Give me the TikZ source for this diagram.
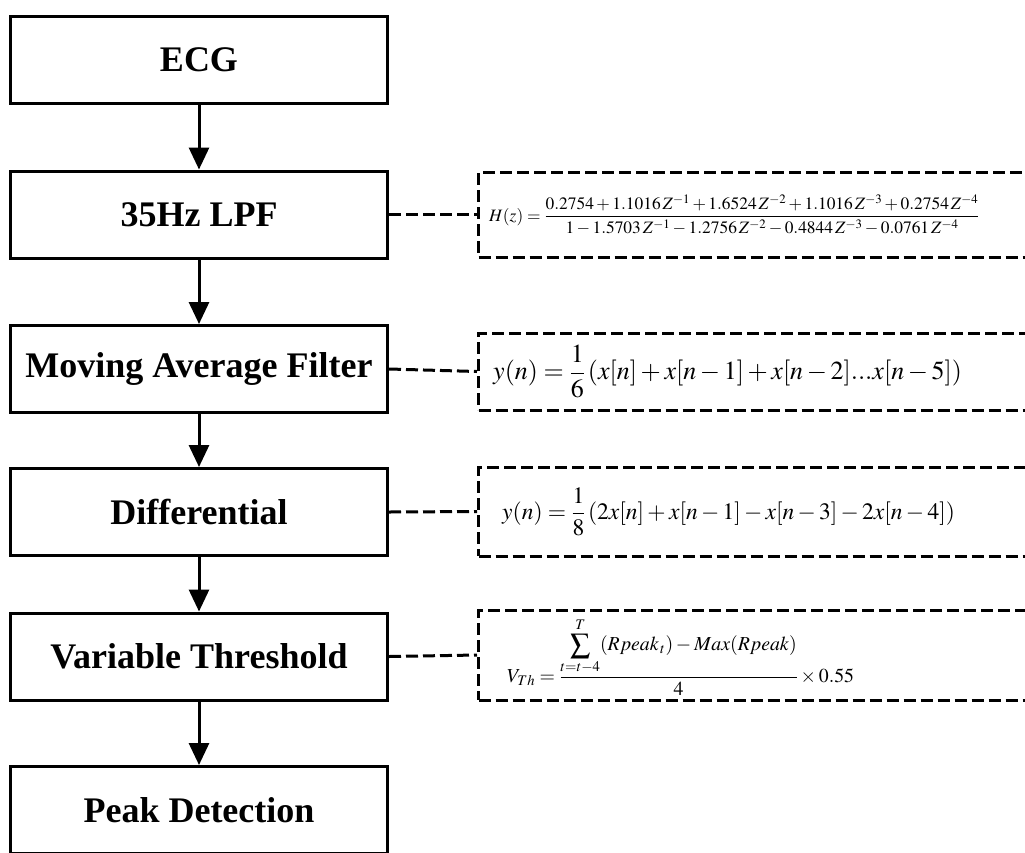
\documentclass[tikz,border=0pt]{standalone}
\usepackage{amsmath}
\usepackage{mathptmx}
\usepackage{fontspec}
\setmainfont{Liberation Serif}
\usetikzlibrary{arrows.meta}
\tikzset{
  stepbox/.style={draw, line width=3pt, rectangle, minimum width=377pt, minimum height=87pt,
    font=\fontsize{36}{42}\selectfont\bfseries, inner sep=0pt},
  fbox/.style={draw, line width=3pt, dash pattern=on 12pt off 5pt, rectangle,
    minimum width=620pt, anchor=west, inner sep=0pt},
  flow/.style={line width=3pt, -{Triangle[length=22pt,width=20pt]}},
  link/.style={line width=3pt, dash pattern=on 12pt off 5pt},
  formula/.style={anchor=west, inner sep=0pt}
}
\begin{document}
\begin{tikzpicture}[x=1pt,y=-1pt]
\useasboundingbox (0,0) rectangle (1025,852);
\clip (0,0) rectangle (1025,852);
% main boxes
\node[stepbox] (ecg) at (199,59.5) {ECG};
\node[stepbox] (lpf) at (199,214.5) {35Hz LPF};
\node[stepbox] (maf) at (199,369) {Moving Average Filter};
\node[stepbox] (dif) at (199,512) {Differential};
\node[stepbox] (vt)  at (199,656.5) {Variable Threshold};
\node[stepbox] (pd)  at (199,810) {Peak Detection};
% arrows
\draw[flow] (ecg) -- (lpf);
\draw[flow] (lpf) -- (maf);
\draw[flow] (maf) -- (dif);
\draw[flow] (dif) -- (vt);
\draw[flow] (vt) -- (pd);
% formula boxes
\node[fbox, minimum height=85pt] (f1) at (477,214.5) {};
\node[fbox, minimum height=77pt] (f2) at (477,371.5) {};
\node[fbox, minimum height=89pt] (f3) at (477,511.5) {};
\node[fbox, minimum height=90pt] (f4) at (477,655) {};
% connectors
\draw[link] (lpf.east) -- (f1.west);
\draw[link] (maf.east) -- (f2.west);
\draw[link] (dif.east) -- (f3.west);
\draw[link] (vt.east) -- (f4.west);
% formulas
\node[formula, font=\fontsize{17.4}{20}\selectfont] (e1) at (489,214.5)
  {$H(z)=\dfrac{0.2754+1.1016\,Z^{-1}+1.6524\,Z^{-2}+1.1016\,Z^{-3}+0.2754\,Z^{-4}}{1-1.5703\,Z^{-1}-1.2756\,Z^{-2}-0.4844\,Z^{-3}-0.0761\,Z^{-4}}$};
\node[formula, font=\fontsize{26}{30}\selectfont] (e2) at (493,371.5)
  {$y(n)=\dfrac{1}{6}\,(x[n]+x[n-1]+x[n-2]...x[n-5])$};
\node[formula, font=\fontsize{23.5}{27}\selectfont] (e3) at (502,511.5)
  {$y(n)=\dfrac{1}{8}\,(2x[n]+x[n-1]-x[n-3]-2x[n-4])$};
\node[formula, font=\fontsize{19.8}{23}\selectfont] (e4) at (507,657)
  {$V_{Th}=\dfrac{\displaystyle\sum_{t=t-4}^{T}(Rpeak_{\,t})-Max(Rpeak)}{4}\times 0.55$};
\end{tikzpicture}
\end{document}
